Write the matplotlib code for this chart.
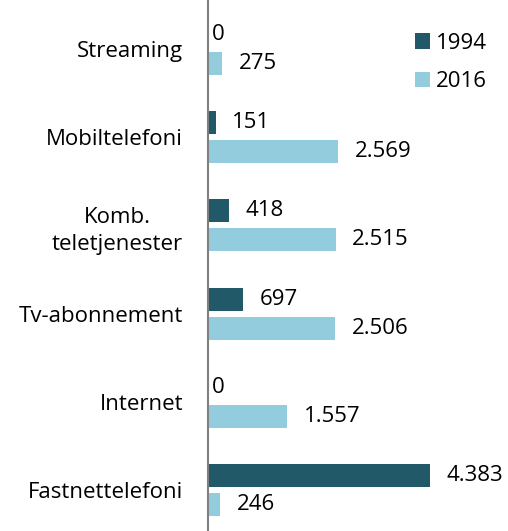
import matplotlib.pyplot as plt
import numpy as np

categories = ['Streaming', 'Mobiltelefoni', 'Komb.\nteletjenester',
              'Tv-abonnement', 'Internet', 'Fastnettelefoni']
v1994 = [0, 151, 418, 697, 0, 4383]
v2016 = [275, 2569, 2515, 2506, 1557, 246]
labels1994 = ['0', '151', '418', '697', '0', '4.383']
labels2016 = ['275', '2.569', '2.515', '2.506', '1.557', '246']

dark = '#215968'
light = '#93CDDD'

plt.rcParams['font.family'] = ['Open Sans', 'DejaVu Sans']
plt.rcParams['font.size'] = 16

fig = plt.figure(figsize=(5.08, 5.31), dpi=100)
ax = fig.add_axes([208 / 508, 0, 300 / 508, 1])

y = np.arange(len(categories))
h = 0.26
off = 0.164
ax.barh(y - off, v1994, height=h, color=dark, label='1994')
ax.barh(y + off, v2016, height=h, color=light, label='2016')

for yy, v, t in zip(y - off, v1994, labels1994):
    ax.annotate(t, (v, yy), xytext=(3 if v == 0 else 12, 0),
                textcoords='offset points', va='center', ha='left')
for yy, v, t in zip(y + off, v2016, labels2016):
    ax.annotate(t, (v, yy), xytext=(3 if v == 0 else 12, 0),
                textcoords='offset points', va='center', ha='left')

ax.set_xlim(0, 300 / 0.0507)
ax.set_ylim(5.465, -0.556)
ax.set_yticks(y)
ax.set_yticklabels(categories, multialignment='center', linespacing=1.4)
ax.tick_params(axis='y', length=0, pad=18)
ax.set_xticks([])
for s in ['top', 'right', 'bottom']:
    ax.spines[s].set_visible(False)
ax.spines['left'].set_color('#808080')
ax.spines['left'].set_linewidth(1.5)

ax.legend(loc='upper left', bbox_to_anchor=(0.66, 0.955), frameon=False,
          handlelength=0.68, handleheight=0.68, handletextpad=0.25,
          labelspacing=0.78, borderaxespad=0)

fig.savefig('out.png', dpi=100)
